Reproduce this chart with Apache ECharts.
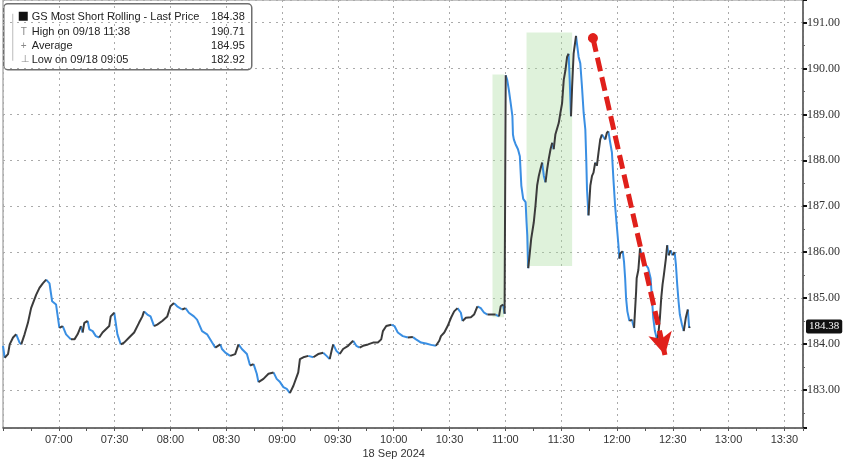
<!DOCTYPE html>
<html>
<head>
<meta charset="utf-8">
<script src="https://cdn.jsdelivr.net/npm/echarts@6/dist/echarts.min.js"></script>
<style>html,body{margin:0;padding:0;background:#fff}#c{width:848px;height:461px}</style>
</head>
<body>
<div id="c"></div>
<script>
// minutes since midnight, 18 Sep 2024
const times = [
390.0,390.9,392.7,393.6,395.4,397.1,398.9,399.8,401.6,403.4,405.1,406.1,407.8,409.6,411.4,413.2,415.0,416.4,418.5,420.3,
422.1,423.9,426.5,428.4,430.1,431.9,432.8,433.7,435.5,436.4,438.2,439.9,441.7,443.5,445.3,447.1,447.9,448.9,449.8,451.5,
453.3,455.1,457.8,460.5,463.1,464.9,465.8,467.6,469.3,471.2,472.9,475.6,478.3,480.0,481.9,483.6,486.3,488.1,489.9,492.6,
494.3,497.0,499.7,502.4,504.1,506.8,507.7,509.5,512.1,514.8,516.6,518.4,521.1,522.8,524.7,526.4,527.3,530.0,532.7,535.4,
537.1,538.9,540.7,542.5,544.2,546.1,548.7,549.6,551.4,554.1,556.8,559.4,562.1,563.9,565.6,566.6,567.5,569.2,571.0,572.8,
575.5,578.2,579.9,581.7,583.5,586.2,588.9,591.5,593.3,594.2,596.0,598.7,600.4,602.2,604.9,607.6,610.3,612.0,614.7,617.4,
620.1,622.7,624.5,625.4,627.2,629.0,630.8,632.5,634.3,636.1,637.0,638.8,641.5,643.2,645.0,646.8,648.6,650.4,653.1,654.8,
656.6,657.5,658.8,659.6,660.2,661.0,661.9,662.9,663.8,664.1,664.6,665.5,666.8,667.8,668.6,669.6,670.9,671.4,671.8,672.3,
673.2,673.9,675.3,676.2,677.1,678.0,678.9,679.8,680.7,681.6,682.5,683.3,684.3,685.2,686.0,686.9,687.8,688.7,689.6,690.5,
691.4,692.3,693.2,694.0,694.6,695.3,695.9,696.7,698.0,698.5,699.4,700.3,701.2,702.1,703.0,703.5,703.9,704.7,705.7,706.6,
707.4,708.3,709.2,710.1,711.0,711.9,712.8,713.7,714.6,715.4,716.4,717.3,718.1,719.0,719.9,720.8,721.3,721.7,723.1,723.8,
724.4,724.9,725.6,726.7,728.0,729.2,729.7,730.3,730.6,731.5,732.4,733.3,734.2,735.6,736.8,738.1,738.8,739.5,740.4,741.7,
742.4,743.1,743.8,744.5,745.2,746.3,747.0,747.8,748.8,749.9,751.0,751.7,752.4,753.1,753.8,754.9,755.9,757.0,758.1,758.8,
759.2
];
const prices = [
183.96,183.70,183.78,183.99,184.14,184.21,184.03,183.99,184.21,184.46,184.78,184.82,185.07,185.22,185.32,185.40,185.32,184.93,184.86,184.35,
184.39,184.21,184.10,184.10,184.21,184.39,184.25,184.46,184.50,184.32,184.28,184.17,184.14,184.25,184.32,184.39,184.60,184.64,184.68,184.21,
183.99,184.03,184.14,184.25,184.46,184.60,184.71,184.64,184.60,184.39,184.42,184.50,184.60,184.82,184.89,184.82,184.75,184.78,184.68,184.60,
184.53,184.28,184.21,184.03,183.92,183.99,183.89,183.81,183.74,183.78,183.99,183.89,183.78,183.53,183.56,183.35,183.17,183.24,183.35,183.38,
183.24,183.17,183.06,183.02,182.93,183.09,183.38,183.67,183.71,183.74,183.71,183.78,183.81,183.74,183.67,183.85,183.99,183.85,183.78,183.89,
183.96,184.07,183.96,183.92,183.96,183.99,184.03,184.03,184.10,184.28,184.39,184.42,184.39,184.25,184.17,184.14,184.15,184.10,184.03,184.01,
183.98,183.96,184.07,184.17,184.25,184.39,184.57,184.71,184.78,184.68,184.50,184.57,184.58,184.64,184.82,184.78,184.68,184.64,184.64,184.64,
184.60,184.82,184.86,184.66,189.85,189.75,189.53,189.24,188.96,188.56,188.45,188.35,188.24,188.09,187.45,187.16,187.09,186.65,186.37,185.65,
186.00,186.29,186.65,187.01,187.45,187.66,187.81,187.95,187.66,187.52,187.81,188.02,188.24,188.38,188.24,188.56,188.60,188.81,189.03,189.24,
189.75,189.96,190.25,190.32,189.75,188.96,189.60,190.32,190.71,190.54,190.25,190.11,189.60,189.03,188.67,188.02,187.37,186.80,187.45,187.66,
187.73,187.95,187.88,188.17,188.45,188.56,188.53,188.45,188.60,188.63,188.38,188.17,187.59,187.01,186.58,186.15,185.86,185.97,186.02,185.79,
185.43,185.00,184.71,184.50,184.53,184.35,184.71,185.14,185.43,185.61,186.08,185.93,185.79,185.72,185.65,185.43,185.00,184.57,184.28,184.07,
184.28,184.57,185.00,185.29,185.50,185.86,186.15,185.93,186.04,185.93,186.00,185.72,185.29,184.93,184.64,184.43,184.28,184.57,184.75,184.35,
184.38
];
const yTicks = [183,184,185,186,187,188,189,190,191];
const xTickStep = 30;
const dateLabel = '18 Sep 2024';
const legendNames = ['GS Most Short Rolling - Last Price','High on 09/18 11:38','Average','Low on 09/18 09:05'];
const legendValues = ['184.38','190.71','184.95','182.92'];
const lastPrice = 184.38;
// shaded boxes: [startMin, endMin, lowPrice, highPrice]
const shade1 = [653.1, 659.3, 184.58, 189.87];
const shade2 = [671.4, 695.9, 185.70, 190.78];
// arrow annotation: [min, price]
const arrowStart = [707.1, 190.66];
const arrowEnd = [745.8, 183.76];

function fmtTime(v){const h=Math.floor(v/60),m=Math.round(v%60);return (h<10?'0':'')+h+':'+(m<10?'0':'')+m;}

const upData=[], downData=[];
function addSeg(arr,a,b){
  const last=arr[arr.length-1];
  if(last && last[0]===a[0] && last[1]===a[1]){arr.push(b);}
  else{ if(arr.length) arr.push([a[0],'-']); arr.push(a,b); }
}
for(let i=0;i<times.length-1;i++){
  const a=[times[i],prices[i]], b=[times[i+1],prices[i+1]];
  addSeg(prices[i+1]>=prices[i]?upData:downData,a,b);
}

const chart = echarts.init(document.getElementById('c'), null, {renderer:'canvas'});
const legendChildren = [
  {type:'rect',shape:{x:0,y:0,width:248,height:66,r:4},style:{fill:'#fff',stroke:'#6f6f6f',lineWidth:1.5}},
  {type:'line',shape:{x1:9,y1:10,x2:9,y2:57},style:{stroke:'#bbb',lineWidth:1}},
  {type:'rect',shape:{x:15,y:8,width:9,height:9},style:{fill:'#111'}},
  {type:'text',style:{x:17,y:28,text:'T',fill:'#888',font:'10px Liberation Sans',verticalAlign:'middle'}},
  {type:'text',style:{x:17,y:42,text:'+',fill:'#888',font:'10px Liberation Sans',verticalAlign:'middle'}},
  {type:'text',style:{x:17,y:56,text:'\u22A5',fill:'#888',font:'10px DejaVu Sans',verticalAlign:'middle'}}
];
const rowY=[13,28,42,56];
legendNames.forEach((n,i)=>{
  legendChildren.push({type:'text',style:{x:28,y:rowY[i],text:n,fill:'#222',font:'11px Liberation Sans',verticalAlign:'middle'}});
  legendChildren.push({type:'text',style:{x:241,y:rowY[i],text:legendValues[i],fill:'#222',font:'11px Liberation Sans',verticalAlign:'middle',align:'right'}});
});

chart.setOption({
  animation:false,
  backgroundColor:'#fff',
  grid:{left:0,right:45,top:0,bottom:29,show:true,borderColor:'#888',borderWidth:1,backgroundColor:'#fff'},
  xAxis:{
    type:'value',min:390,max:820,interval:xTickStep,
    axisLine:{show:true,lineStyle:{color:'#555',width:1.5}},
    axisTick:{show:true,length:3,lineStyle:{color:'#555'}},
    minorTick:{show:true,splitNumber:2,length:3,lineStyle:{color:'#555'}},
    splitLine:{show:true,lineStyle:{color:'#aaa',type:[2,4],width:1}},
    axisLabel:{color:'#333',fontFamily:'Liberation Sans',fontSize:11,margin:5,lineHeight:14,
      formatter:v=>{ if(v%30!==0||v<=390||v>=820) return ''; const s=fmtTime(v); return v===600? s+'\n'+dateLabel : s; }}
  },
  yAxis:{
    type:'value',position:'right',min:182.17,max:191.49,splitNumber:9,scale:true,
    axisLine:{show:true,lineStyle:{color:'#555',width:1.5}},
    axisTick:{show:true,length:4,lineStyle:{color:'#111',width:2}},
    minorTick:{show:true,splitNumber:2,length:2,lineStyle:{color:'#666'}},
    splitLine:{show:true,lineStyle:{color:'#aaa',type:[2,5],width:1}},
    axisLabel:{showMinLabel:false,showMaxLabel:false,color:'#333',fontFamily:'Liberation Serif',fontSize:12,margin:4,
      formatter:v=> yTicks.indexOf(Math.round(v*100)/100)>=0 ? v.toFixed(2) : ''}
  },
  series:[
    {type:'line',name:'shade',data:[],z:1,silent:true,
      markArea:{silent:true,itemStyle:{color:'rgba(170,220,160,0.38)'},
        data:[[{xAxis:shade1[0],yAxis:shade1[2]},{xAxis:shade1[1],yAxis:shade1[3]}],
              [{xAxis:shade2[0],yAxis:shade2[2]},{xAxis:shade2[1],yAxis:shade2[3]}]]}},
    {type:'line',name:'down',data:downData,showSymbol:false,connectNulls:false,z:3,
      lineStyle:{color:'#3a8fe3',width:2},itemStyle:{color:'#3a8fe3'}},
    {type:'line',name:'up',data:upData,showSymbol:false,connectNulls:false,z:3,
      lineStyle:{color:'#3b3b3b',width:2},itemStyle:{color:'#3b3b3b'}},
    {type:'line',name:'annot',data:[],z:6,silent:true,
      markLine:{silent:true,animation:false,
        data:[
          [{coord:arrowStart,symbol:'circle',symbolSize:10},{coord:arrowEnd,symbol:'arrow',symbolSize:[18,22]}]
        ],
        lineStyle:{color:'#e0201b',width:5,type:[14,6]},itemStyle:{color:'#e0201b'},label:{show:false}}},
    {type:'line',name:'last',data:[],z:7,silent:true,clip:false,
      markLine:{silent:true,symbol:'none',animation:false,
        data:[{yAxis:lastPrice}],
        lineStyle:{color:'rgba(0,0,0,0)',width:0},
        label:{show:true,position:'end',distance:3,formatter:lastPrice.toFixed(2),color:'#fff',backgroundColor:'#111',
          padding:[2,3,1,3],borderRadius:2,fontFamily:'Liberation Serif',fontSize:11}}}
  ],
  graphic:[{type:'group',left:3,top:3,z:100,children:legendChildren}]
});
</script>
</body>
</html>
